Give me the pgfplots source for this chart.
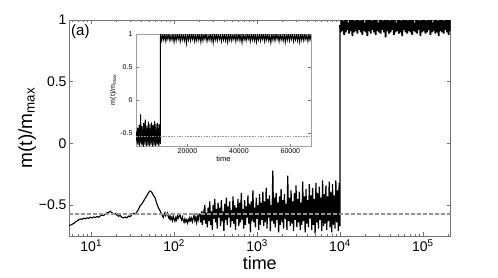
\documentclass[border=0pt]{standalone}
\usepackage{pgfplots}
\pgfplotsset{compat=1.18}
\usepackage{pgfplotstable}
\usepackage{fontspec}
\setmainfont{Liberation Sans}
\definecolor{axgray}{gray}{0.45}
\definecolor{dashgray}{gray}{0.58}

% main run: lx = log10(time), m = m(t)/m_max
% early, smooth part
\pgfplotstableread{
lx m
0.73 -0.667
0.75 -0.662
0.77 -0.655
0.79 -0.648
0.81 -0.636
0.83 -0.628
0.85 -0.618
0.87 -0.612
0.89 -0.615
0.91 -0.606
0.93 -0.610
0.95 -0.603
0.97 -0.607
0.99 -0.598
1.01 -0.604
1.03 -0.596
1.05 -0.600
1.07 -0.592
1.09 -0.598
1.11 -0.588
1.13 -0.580
1.15 -0.584
1.17 -0.572
1.19 -0.563
1.21 -0.558
1.23 -0.550
1.25 -0.561
1.27 -0.572
1.29 -0.566
1.31 -0.580
1.33 -0.590
1.35 -0.584
1.37 -0.598
1.39 -0.604
1.41 -0.596
1.43 -0.603
1.45 -0.588
1.47 -0.594
1.49 -0.575
1.51 -0.566
1.53 -0.572
1.55 -0.556
1.57 -0.534
1.59 -0.505
1.61 -0.490
1.63 -0.470
1.65 -0.445
1.67 -0.425
1.69 -0.400
1.71 -0.385
1.73 -0.395
1.75 -0.420
1.77 -0.440
1.79 -0.485
1.81 -0.520
1.83 -0.545
1.85 -0.575
1.87 -0.600
1.88 -0.575
1.89 -0.560
1.90 -0.585
1.91 -0.570
1.92 -0.562
1.93 -0.595
1.94 -0.610
1.95 -0.585
1.96 -0.615
1.97 -0.600
1.98 -0.625
1.99 -0.590
2.00 -0.615
2.01 -0.630
2.02 -0.600
2.03 -0.620
2.04 -0.585
2.05 -0.605
2.06 -0.590
2.07 -0.575
2.08 -0.605
2.09 -0.620
2.10 -0.595
2.11 -0.625
2.12 -0.640
2.13 -0.610
2.14 -0.635
2.15 -0.620
2.16 -0.645
2.17 -0.615
2.18 -0.630
2.19 -0.600
2.20 -0.625
2.21 -0.605
2.22 -0.635
2.23 -0.610
2.24 -0.580
2.25 -0.625
2.26 -0.600
2.27 -0.640
2.28 -0.590
2.29 -0.620
2.30 -0.570
}\earlydata

% noisy part up to the flip at t = 10^4
\pgfplotstableread{
lx m
2.30 -0.570
2.31 -0.58
2.32 -0.64
2.33 -0.55
2.34 -0.66
2.35 -0.57
2.36 -0.62
2.37 -0.50
2.38 -0.65
2.39 -0.56
2.40 -0.68
2.41 -0.52
2.42 -0.63
2.43 -0.47
2.44 -0.66
2.45 -0.55
2.46 -0.70
2.47 -0.50
2.48 -0.61
2.49 -0.45
2.50 -0.64
2.51 -0.53
2.52 -0.69
2.53 -0.48
2.54 -0.60
2.55 -0.52
2.56 -0.67
2.57 -0.46
2.58 -0.63
2.59 -0.55
2.60 -0.71
2.61 -0.49
2.62 -0.62
2.63 -0.44
2.64 -0.66
2.65 -0.51
2.66 -0.60
2.67 -0.47
2.68 -0.68
2.69 -0.54
2.70 -0.63
2.71 -0.43
2.72 -0.65
2.73 -0.50
2.74 -0.70
2.75 -0.52
2.76 -0.61
2.77 -0.45
2.78 -0.67
2.79 -0.48
2.80 -0.64
2.81 -0.40
2.82 -0.62
2.83 -0.53
2.84 -0.69
2.85 -0.46
2.86 -0.66
2.87 -0.51
2.88 -0.60
2.89 -0.42
2.90 -0.65
2.91 -0.49
2.92 -0.72
2.93 -0.47
2.94 -0.63
2.95 -0.38
2.96 -0.64
2.97 -0.52
2.98 -0.68
2.99 -0.44
3.00 -0.61
3.01 -0.50
3.02 -0.70
3.03 -0.41
3.04 -0.66
3.05 -0.48
3.06 -0.62
3.07 -0.39
3.08 -0.67
3.09 -0.47
3.10 -0.64
3.11 -0.36
3.12 -0.69
3.13 -0.45
3.14 -0.60
3.15 -0.42
3.16 -0.71
3.17 -0.50
3.18 -0.63
3.19 -0.22
3.20 -0.65
3.21 -0.44
3.22 -0.68
3.23 -0.40
3.24 -0.62
3.25 -0.48
3.26 -0.72
3.27 -0.43
3.28 -0.66
3.29 -0.37
3.30 -0.64
3.31 -0.46
3.32 -0.69
3.33 -0.41
3.34 -0.61
3.35 -0.49
3.36 -0.70
3.37 -0.26
3.38 -0.63
3.39 -0.44
3.40 -0.67
3.41 -0.38
3.42 -0.65
3.43 -0.47
3.44 -0.71
3.45 -0.40
3.46 -0.62
3.47 -0.34
3.48 -0.68
3.49 -0.45
3.50 -0.64
3.51 -0.39
3.52 -0.70
3.53 -0.48
3.54 -0.66
3.55 -0.31
3.56 -0.63
3.57 -0.43
3.58 -0.72
3.59 -0.37
3.60 -0.65
3.61 -0.46
3.62 -0.68
3.63 -0.33
3.64 -0.61
3.65 -0.42
3.66 -0.70
3.67 -0.36
3.68 -0.66
3.69 -0.45
3.70 -0.73
3.71 -0.32
3.72 -0.64
3.73 -0.40
3.74 -0.69
3.75 -0.35
3.76 -0.62
3.77 -0.44
3.78 -0.71
3.79 -0.30
3.80 -0.67
3.81 -0.41
3.82 -0.65
3.83 -0.34
3.84 -0.70
3.85 -0.43
3.86 -0.63
3.87 -0.31
3.88 -0.68
3.89 -0.39
3.90 -0.72
3.91 -0.33
3.92 -0.66
3.93 -0.42
3.94 -0.69
3.95 -0.30
3.96 -0.64
3.97 -0.38
3.98 -0.71
3.99 -0.32
4.00 -0.67
4.00 0.96
}\noisedata

% after the flip
\pgfplotstableread{
lx m
4.00 0.96
4.01 0.90
4.02 1.01
4.03 0.91
4.04 0.99
4.05 0.88
4.06 1.02
4.07 0.90
4.08 1.00
4.09 0.92
4.10 0.98
4.11 0.89
4.12 1.01
4.13 0.91
4.14 1.00
4.15 0.87
4.16 1.02
4.17 0.90
4.18 0.99
4.19 0.91
4.20 1.00
4.21 0.89
4.22 1.01
4.23 0.92
4.24 0.99
4.25 0.90
4.26 1.02
4.27 0.88
4.28 1.00
4.29 0.91
4.30 0.98
4.31 0.90
4.32 1.01
4.33 0.87
4.34 1.00
4.35 0.91
4.36 1.02
4.37 0.89
4.38 0.99
4.39 0.92
4.40 1.01
4.41 0.90
4.42 1.00
4.43 0.88
4.44 1.02
4.45 0.91
4.46 0.98
4.47 0.90
4.48 1.01
4.49 0.89
4.50 1.00
4.51 0.92
4.52 0.99
4.53 0.90
4.54 1.02
4.55 0.86
4.56 1.00
4.57 0.91
4.58 1.01
4.59 0.89
4.60 0.99
4.61 0.90
4.62 1.02
4.63 0.92
4.64 1.00
4.65 0.88
4.66 1.01
4.67 0.90
4.68 0.98
4.69 0.91
4.70 1.02
4.71 0.89
4.72 1.00
4.73 0.90
4.74 0.99
4.75 0.87
4.76 1.01
4.77 0.92
4.78 1.00
4.79 0.90
4.80 1.02
4.81 0.89
4.82 0.99
4.83 0.91
4.84 1.01
4.85 0.90
4.86 1.00
4.87 0.88
4.88 1.02
4.89 0.91
4.90 0.98
4.91 0.90
4.92 1.01
4.93 0.89
4.94 1.00
4.95 0.92
4.96 0.99
4.97 0.87
4.98 1.02
4.99 0.90
5.00 1.00
5.01 0.91
5.02 1.01
5.03 0.89
5.04 0.99
5.05 0.90
5.06 1.02
5.07 0.92
5.08 1.00
5.09 0.88
5.10 1.01
5.11 0.90
5.12 0.98
5.13 0.91
5.14 1.02
5.15 0.89
5.16 1.00
5.17 0.90
5.18 0.99
5.19 0.87
5.20 1.01
5.21 0.91
5.22 1.00
5.23 0.90
5.24 1.02
5.25 0.89
5.26 0.99
5.27 0.92
5.28 1.01
5.29 0.90
5.30 1.00
5.31 0.88
5.32 1.02
5.33 0.91
5.34 1.00
}\banddata

% inset: linear time
\pgfplotstableread{
t m
0 -0.55
150 -0.62
300 -0.48
450 -0.66
600 -0.42
750 -0.68
900 -0.50
1050 -0.63
1200 -0.38
1350 -0.70
1500 -0.45
1650 -0.60
1800 -0.22
1950 -0.66
2100 -0.47
2250 -0.69
2400 -0.40
2550 -0.62
2700 -0.50
2850 -0.71
3000 -0.35
3150 -0.64
3300 -0.46
3450 -0.68
3600 -0.30
3750 -0.63
3900 -0.44
4050 -0.70
4200 -0.39
4350 -0.61
4500 -0.48
4650 -0.69
4800 -0.33
4950 -0.66
5100 -0.43
5250 -0.70
5400 -0.37
5550 -0.62
5700 -0.45
5850 -0.68
6000 -0.34
6150 -0.65
6300 -0.42
6450 -0.71
6600 -0.38
6750 -0.63
6900 -0.47
7050 -0.69
7200 -0.32
7350 -0.66
7500 -0.41
7650 -0.70
7800 -0.36
7950 -0.64
8100 -0.44
8250 -0.68
8400 -0.35
8550 -0.62
8700 -0.43
8850 -0.70
9000 -0.37
9150 -0.65
9300 -0.40
9450 -0.67
9500 0.95
9600 1.00
10000 0.90
10400 0.99
10800 0.91
11200 1.00
11600 0.89
12000 0.99
12400 0.92
12800 1.00
13200 0.90
13600 0.98
14000 0.91
14400 1.00
14800 0.88
15200 0.99
15600 0.90
16000 1.00
16400 0.92
16800 0.99
17200 0.89
17600 1.00
18000 0.91
18400 0.98
18800 0.90
19200 1.00
19600 0.86
20000 0.99
20400 0.91
20800 1.00
21200 0.90
21600 0.99
22000 0.92
22400 1.00
22800 0.89
23200 0.98
23600 0.90
24000 1.00
24400 0.91
24800 0.99
25200 0.88
25600 1.00
26000 0.90
26400 0.99
26800 0.92
27200 1.00
27600 0.89
28000 0.98
28400 0.91
28800 1.00
29200 0.90
29600 0.99
30000 0.87
30400 1.00
30800 0.91
31200 0.99
31600 0.90
32000 1.00
32400 0.92
32800 0.98
33200 0.89
33600 1.00
34000 0.91
34400 0.99
34800 0.90
35200 1.00
35600 0.88
36000 0.99
36400 0.91
36800 1.00
37200 0.90
37600 0.98
38000 0.92
38400 1.00
38800 0.89
39200 0.99
39600 0.91
40000 1.00
40400 0.90
40800 0.99
41200 0.87
41600 1.00
42000 0.91
42400 0.98
42800 0.90
43200 1.00
43600 0.92
44000 0.99
44400 0.89
44800 1.00
45200 0.91
45600 0.99
46000 0.90
46400 1.00
46800 0.88
47200 0.98
47600 0.91
48000 1.00
48400 0.90
48800 0.99
49200 0.92
49600 1.00
50000 0.89
50400 0.99
50800 0.91
51200 1.00
51600 0.90
52000 0.98
52400 0.87
52800 1.00
53200 0.91
53600 0.99
54000 0.90
54400 1.00
54800 0.92
55200 0.99
55600 0.89
56000 1.00
56400 0.91
56800 0.98
57200 0.90
57600 1.00
58000 0.88
58400 0.99
58800 0.91
59200 1.00
59600 0.90
60000 0.99
60400 0.92
60800 1.00
61200 0.89
61600 0.98
62000 0.91
62400 1.00
62800 0.90
63200 0.99
63600 0.88
64000 1.00
64400 0.91
64800 0.99
65200 0.90
65600 1.00
66000 0.92
66400 0.98
66800 0.89
67200 1.00
67600 0.91
68000 0.99
}\insetdata

\begin{document}
\begin{tikzpicture}
\useasboundingbox (0,0) rectangle (498pt,277pt);
\begin{axis}[
  at={(69pt,41pt)}, anchor=south west,
  width=381.5pt, height=216pt, scale only axis,
  xmode=log, xmin=5.4, xmax=2.15e5, ymin=-0.75, ymax=1,
  axis line style={axgray, line width=0.7pt},
  tick style={axgray, line width=0.6pt},
  tick align=inside, major tick length=4pt, minor tick length=2.2pt,
  xtick={10,100,1000,10000,100000},
  xticklabels={10\textsuperscript{1},10\textsuperscript{2},10\textsuperscript{3},10\textsuperscript{4},10\textsuperscript{5}},
  minor xtick={6,7,8,9,20,30,40,50,60,70,80,90,200,300,400,500,600,700,800,900,2000,3000,4000,5000,6000,7000,8000,9000,20000,30000,40000,50000,60000,70000,80000,90000,200000},
  ytick={-0.5,0,0.5,1},
  yticklabels={−0.5,0,0.5,1},
  ticklabel style={font=\fontsize{14}{16}\selectfont, black},
  yticklabel style={xshift=1pt},
  xlabel={time},
  xlabel style={font=\fontsize{18}{20}\selectfont, yshift=2pt},
  ylabel={m(t)/m\textsubscript{max}},
  ylabel style={font=\fontsize{19}{21}\selectfont, yshift=-4pt},
]
\addplot[black, line width=1.1pt] table[x expr={10^(\thisrow{lx})}, y=m] {\earlydata};
\addplot[black, line width=1.2pt] table[x expr={10^(\thisrow{lx})}, y=m] {\noisedata};
\addplot[black, line width=1.7pt] table[x expr={10^(\thisrow{lx})}, y=m] {\banddata};
\addplot[dashgray, line width=1.6pt, dash pattern=on 3.5pt off 2.5pt] coordinates {(5.4,-0.57) (2.15e5,-0.57)};
\node[anchor=north west, font=\fontsize{15}{17}\selectfont, inner sep=1pt, xshift=1pt, yshift=-3pt] at (rel axis cs:0,1) {(a)};
\end{axis}

\begin{axis}[
  at={(136pt,131pt)}, anchor=south west,
  width=175pt, height=112pt, scale only axis,
  xmin=0, xmax=68000, ymin=-0.7, ymax=1,
  scaled x ticks=false,
  axis background/.style={fill=white},
  axis line style={gray!75, line width=0.5pt},
  tick style={axgray, line width=0.4pt},
  tick align=inside, major tick length=2.5pt,
  xtick={20000,40000,60000},
  xticklabels={20000,40000,60000},
  ytick={-0.5,0,0.5,1},
  yticklabels={-0.5,0,0.5,1},
  ticklabel style={font=\fontsize{7}{8}\selectfont, black},
  xticklabel style={yshift=1pt},
  xlabel={time},
  xlabel style={font=\fontsize{7.5}{8}\selectfont, yshift=4pt},
  ylabel={m(t)/m\textsubscript{max}},
  ylabel style={font=\fontsize{7}{8}\selectfont, yshift=-3pt},
]
\addplot[black, line width=1pt] table[x=t, y=m] {\insetdata};
\addplot[dashgray, line width=0.8pt, dash pattern=on 1.5pt off 1.2pt] coordinates {(0,-0.56) (68000,-0.56)};
\end{axis}
\end{tikzpicture}
\end{document}
